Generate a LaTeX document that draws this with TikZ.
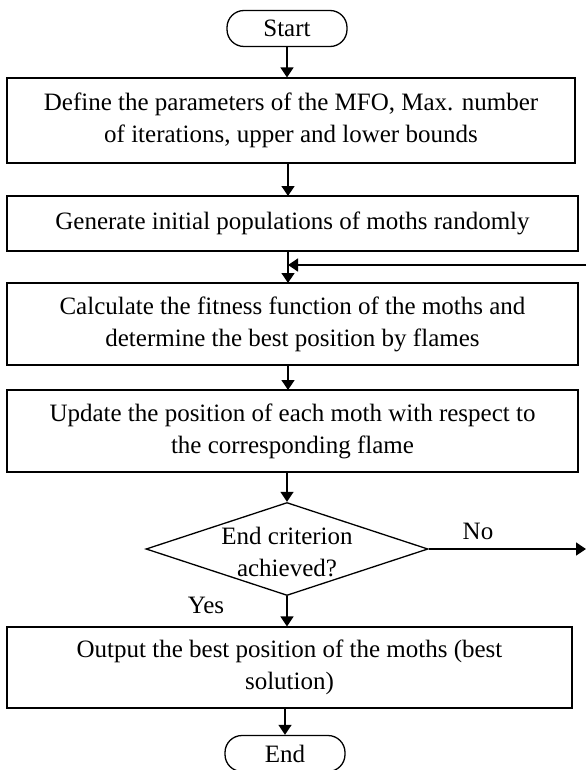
\documentclass[tikz,border=0pt]{standalone}
\usepackage{fontspec}
\setmainfont{Liberation Serif}
\usetikzlibrary{arrows.meta,shapes.geometric,shadows}
\begin{document}
\begin{tikzpicture}[x=1pt,y=-1pt,
  txt/.style={font=\fontsize{25}{32}\selectfont},
  box/.style={draw, line width=1.1pt, fill=white, align=center, inner sep=0pt, txt,
    drop shadow={shadow xshift=1.3pt, shadow yshift=-1.3pt, fill=black!75, opacity=1}},
  term/.style={draw, line width=1.3pt, rounded corners=17pt, inner sep=0pt, txt,
    minimum width=120pt, minimum height=36pt},
  dec/.style={draw, diamond, line width=1.3pt, inner sep=0pt, minimum width=282pt, minimum height=93pt},
  arr/.style={line width=1.4pt, -{Triangle[length=10pt,width=13pt]}},
  lbl/.style={txt, inner sep=0pt}]
\useasboundingbox (0,0) rectangle (586,770);
\node[term] (start) at (287,28.5) {Start};
\node[box, minimum width=568pt, minimum height=85pt] (b1) at (291,120.5)
  {Define the parameters of the MFO, Max. number\\of iterations, upper and lower bounds};
\node[box, minimum width=571pt, minimum height=55pt] (b2) at (292.5,223.5)
  {Generate initial populations of moths randomly};
\node[box, minimum width=571pt, minimum height=82pt] (b3) at (292.5,324)
  {Calculate the fitness function of the moths and\\determine the best position by flames};
\node[box, minimum width=571pt, minimum height=82pt] (b4) at (292.5,431)
  {Update the position of each moth with respect to\\the corresponding flame};
\node[dec] (d) at (287,549) {};
\node[lbl, align=center] (dt) at (287,552) {End criterion\\achieved?};
\node[box, minimum width=565pt, minimum height=81pt] (b5) at (289.5,667.5)
  {Output the best position of the moths (best\\solution)};
\node[term] (end) at (285,753.5) {End};
\node[lbl] (no) at (478,531) {No};
\node[lbl] (yes) at (206,605) {Yes};
\coordinate (loopin) at (586,265);
\coordinate (noout) at (586,549);
\coordinate (j) at (288,265);
\draw[arr] (start.south) -- (start.south |- b1.north);
\draw[arr] (288,163) -- (288,196);
\draw[arr] (288,251) -- (288,283);
\draw[arr] (loopin) -- (j);
\draw[arr] (288,365) -- (288,390);
\draw[arr] (d.north |- b4.south) -- (d.north);
\draw[arr] (d.south) -- (d.south |- b5.north);
\draw[arr] (d.east) -- (noout);
\draw[arr] (b5.south -| end.north) -- (end.north);
\end{tikzpicture}
\end{document}
